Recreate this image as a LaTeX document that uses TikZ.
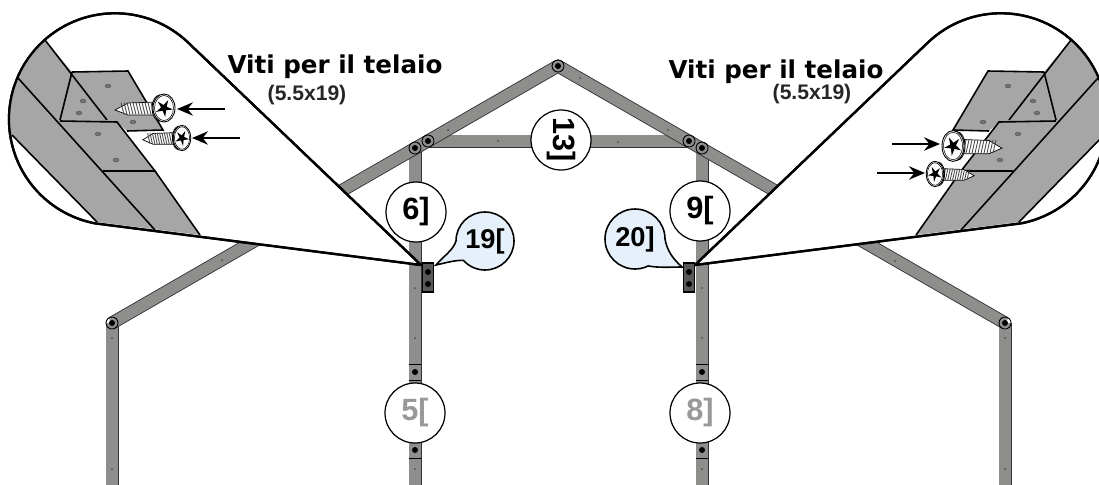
\documentclass[tikz,border=0pt]{standalone}
\usepackage{fontspec}
\setmainfont{Liberation Sans}
\newfontfamily\titlefont{DejaVu Sans}
\definecolor{barfill}{HTML}{8E8E8C}
\definecolor{plankfill}{HTML}{A6A6A6}
\definecolor{balloonfill}{HTML}{E6F0FA}
\usetikzlibrary{arrows.meta}
\tikzset{
	barline/.style={draw=black!80,line width=0.5pt,double=barfill,double distance=6.4pt},
	lensline/.style={draw=black,line width=1.3pt,line join=round},
	plankline/.style={draw=black,line width=0.9pt},
	numcircle/.style={circle,draw=black,fill=white,line width=0.7pt,minimum size=1.2cm,inner sep=0pt,font=\fontsize{17.5}{19}\bfseries},
	greynum/.style={numcircle,text=black!40},
	balloonnum/.style={inner sep=0pt,font=\fontsize{15.5}{17}\bfseries},
	titlenum/.style={inner sep=0pt,font=\titlefont\fontsize{14}{16}\bfseries},
	sizenum/.style={inner sep=0pt,text=black!85,font=\fontsize{12}{14}\bfseries},
	pointer/.style={-{Stealth[length=9pt,width=7.5pt]},draw=black,line width=1.7pt},
}
% head at (#1,#2), tip towards the side given by #3
\newcommand{\vite}[4]{
	\begin{scope}[shift={(#1,#2)},xscale=#3,yscale=#4]
		\filldraw[fill=white,line width=0.4pt] (-8,-6) -- (-36,-5) -- (-49,2) -- (-36,7) -- (-8,7) -- cycle;
		\foreach \k in {-11,-14,...,-41} {
			\draw[line width=0.5pt,black!70] (\k-2,-5.5) -- (\k+1,6.5);
		}
		\filldraw[fill=white,line width=0.5pt] (-4,0) ellipse (8 and 13);
		\filldraw[fill=white,line width=0.5pt] (0,0) ellipse (11 and 14);
		\draw[line width=0.3pt] (0,0) ellipse (9.5 and 12.5);
		\fill (10:9) -- (46:3) -- (82:9) -- (118:3) -- (154:9) -- (190:3) -- (226:9) -- (262:3) -- (298:9) -- (334:3) -- cycle;
	\end{scope}
}
% the magnified corner, drawn for the left side
\newcommand{\lente}{
	\filldraw[fill=white,lensline] (421,265) -- (188.6,43) arc[start angle=-46,end angle=-259,radius=106] -- cycle;
	\begin{scope}
		\clip (421,265) -- (188.6,43) arc[start angle=-46,end angle=-259,radius=106] -- cycle;
		\fill[plankfill] (45,40) -- (72,72) -- (128,71) -- (163,130) -- (127,131) -- (117,122) -- (155,171) -- (200,235) -- (97,222) -- (12,135) -- (0,130) -- (0,40) -- cycle;
		\draw[plankline] (45,40) -- (107,120);
		\draw[plankline] (18,78) -- (155,230);
		\draw[plankline] (12,135) -- (97,222);
		\draw[plankline] (72,72) -- (128,71) -- (163,130) -- (127,131);
		\draw[plankline] (72,72) -- (60,120);
		\draw[plankline] (60,121) -- (117,122) -- (155,171) -- (103,171);
		\draw[plankline] (155,171) -- (200,235);
		\foreach \hx/\hy in {108/86,83/101,79/113,133/122,98/134,116/160} {
			\filldraw[fill=black!55,draw=black!70,line width=0.2pt] (\hx,\hy) ellipse (2.8 and 2);
		}
	\end{scope}
	\draw[lensline] (421,265) -- (188.6,43) arc[start angle=-46,end angle=-259,radius=106] -- cycle;
}
\begin{document}
\begin{tikzpicture}[x=0.02cm,y=-0.02cm]
	\useasboundingbox (0,0) rectangle (1099,484);
	\clip (0,0) rectangle (1099,484);

	% frame
	\draw[barline] (112,490) -- (112,323);
	\draw[barline] (415,490) -- (415,148);
	\draw[barline] (702,490) -- (702,148);
	\draw[barline] (1005,490) -- (1005,323);
	\draw[barline] (428,141) -- (689,141);
	\draw[barline,line join=round] (112,323) -- (558,66) -- (1005,323);
	\foreach \jx/\jy in {112/323,428/141,415/148,689/141,702/148,558/66,1005/323} {
		\draw[line width=0.5pt] (\jx,\jy) circle (6);
		\fill (\jx,\jy) circle (3);
	}
	\foreach \jx/\jy in {415/372,415/450,702/372,702/450} {
		\fill (\jx,\jy) circle (3);
		\draw[line width=0.4pt] (\jx-6,\jy-8) -- (\jx+6,\jy-8);
		\draw[line width=0.4pt] (\jx-6,\jy+8) -- (\jx+6,\jy+8);
	}
	\foreach \dx/\dy in {112/338,112/469,415/288,415/338,415/469,702/288,702/338,702/469,1005/338,1005/469,222/260,895/261,448/130,580/78,498/141,618/142,668/130} {
		\fill[black!70] (\dx,\dy) circle (1);
	}

	% lenses
	\lente
	\begin{scope}[shift={(1116,0)},xscale=-1]
		\lente
	\end{scope}

	% screws and arrows
	\vite{164}{108}{1}{1}
	\vite{182}{138}{0.8}{0.9}
	\vite{953}{146}{-1}{1.1}
	\vite{935}{174}{-0.8}{0.9}
	\draw[pointer] (225,109) -- (177,109);
	\draw[pointer] (240,138) -- (192,138);
	\draw[pointer] (892,144) -- (940,144);
	\draw[pointer] (877,173) -- (925,173);

	% brackets
	\foreach \bx in {428,689} {
		\filldraw[fill=black!65,line width=0.7pt] (\bx-5.5,263) rectangle (\bx+5.5,292);
		\fill (\bx,272) circle (3);
		\fill (\bx,284) circle (3);
	}

	% balloons
	\filldraw[fill=balloonfill,line width=0.9pt] (436,265) .. controls (446,254) and (453,250) .. (456,241) arc[start angle=180,end angle=498,radius=29] .. controls (455,260) and (445,263) .. (436,265) -- cycle;
	\filldraw[fill=balloonfill,line width=0.9pt] (682,267) .. controls (672,258) and (667,250) .. (665,239) arc[start angle=0,end angle=-296,radius=30] .. controls (660,268) and (670,267) .. (682,267) -- cycle;
	\node[balloonnum] (n19) at (485,241) {19[};
	\node[balloonnum] (n20) at (635,239) {20]};

	% numbers
	\node[numcircle] (n13) at (561,140) {\rotatebox{-90}{13]}};
	\node[numcircle] (n6) at (416,212) {6]};
	\node[numcircle] (n9) at (700,211) {9[};
	\node[greynum] (n5) at (415,413) {5[};
	\node[greynum] (n8) at (700,413) {8]};

	% titles
	\node[titlenum] (titoloL) at (335,67) {Viti per il telaio};
	\node[sizenum] (misuraL) at (307,95) {(5.5x19)};
	\node[titlenum] (titoloR) at (776,72) {Viti per il telaio};
	\node[sizenum] (misuraR) at (812,94) {(5.5x19)};
\end{tikzpicture}
\end{document}
